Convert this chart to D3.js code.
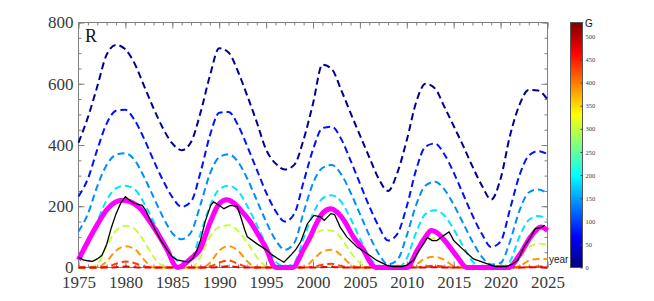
<!DOCTYPE html>
<html>
<head>
<meta charset="utf-8">
<script src="https://cdn.jsdelivr.net/npm/d3@7/dist/d3.min.js"></script>
<style>
    body { margin: 0; background: #fff; }
    svg { display: block; }
</style>
</head>
<body>
<div id="chart"></div>
<script>
//years of the dashed model curves
let years = [1975, 1976, 1977, 1978, 1979, 1980, 1981, 1982, 1983, 1984, 1985,
    1986, 1987, 1988, 1989, 1990, 1991, 1992, 1993, 1994, 1995, 1996,
    1997, 1998, 1999, 2000, 2001, 2002, 2003, 2004, 2005, 2006, 2007,
    2008, 2009, 2010, 2011, 2012, 2013, 2014, 2015, 2016, 2017, 2018,
    2019, 2020, 2021, 2022, 2023, 2024, 2025];

//G level of each dashed curve (its colour comes from the G bar)
let gLevels = [10, 75, 140, 185, 300, 385, 430, 475];

let rG10 = [408, 490, 591, 695, 727, 712, 665, 592, 520, 455, 405,
    383, 410, 505, 625, 716, 702, 640, 560, 475, 385, 340,
    320, 335, 418, 535, 662, 648, 580, 505, 432, 360, 290,
    250, 310, 416, 540, 600, 585, 525, 462, 398, 330, 268,
    222, 290, 430, 530, 580, 578, 548];
let rG75 = [232, 290, 385, 470, 512, 515, 480, 420, 350, 285, 230,
    198, 215, 310, 430, 505, 508, 465, 395, 320, 245, 185,
    150, 175, 280, 385, 455, 460, 420, 350, 275, 200, 135,
    88, 110, 200, 320, 395, 405, 370, 310, 240, 170, 110,
    67, 85, 190, 300, 365, 380, 370];
let rG140 = [118, 175, 265, 335, 368, 373, 350, 295, 230, 165, 112,
    92, 115, 205, 305, 360, 370, 345, 290, 220, 150, 90,
    58, 80, 180, 275, 325, 335, 305, 245, 175, 105, 45,
    10, 25, 105, 205, 268, 280, 255, 205, 145, 85, 35,
    10, 15, 85, 185, 245, 255, 242];
let rG185 = [36, 75, 150, 220, 258, 267, 255, 210, 150, 90, 40,
    15, 30, 110, 200, 255, 267, 250, 200, 140, 75, 20,
    3, 15, 95, 175, 225, 236, 215, 160, 95, 35, 5,
    0, 0, 30, 115, 175, 187, 170, 125, 70, 20, 2,
    0, 0, 20, 100, 155, 168, 157];
let rG300 = [0, 0, 10, 70, 120, 136, 125, 85, 35, 5, 0,
    0, 0, 35, 100, 132, 138, 120, 80, 35, 5, 0,
    0, 0, 45, 100, 122, 120, 95, 50, 15, 0, 0,
    0, 0, 0, 50, 88, 95, 85, 50, 15, 0, 0,
    0, 0, 0, 30, 65, 78, 74];
let rG385 = [0, 0, 0, 20, 55, 69, 60, 25, 0, 0, 0,
    0, 0, 0, 15, 55, 70, 55, 20, 0, 0, 0,
    0, 0, 0, 25, 52, 58, 40, 10, 0, 0, 0,
    0, 0, 0, 10, 30, 35, 25, 5, 0, 0, 0,
    0, 0, 0, 5, 22, 28, 27];
let rG430 = [0, 0, 0, 2, 12, 20, 14, 3, 0, 0, 0,
    0, 0, 0, 3, 16, 23, 12, 2, 0, 0, 0,
    0, 0, 0, 2, 9, 12, 5, 0, 0, 0, 0,
    0, 0, 0, 0, 4, 6, 3, 0, 0, 0, 0,
    0, 0, 0, 0, 2, 3, 3];
let rG475 = [0, 0, 0, 0, 1, 3, 1, 0, 0, 0, 0,
    0, 0, 0, 0, 2, 4, 1, 0, 0, 0, 0,
    0, 0, 0, 0, 1, 2, 0, 0, 0, 0, 0,
    0, 0, 0, 0, 0, 1, 0, 0, 0, 0, 0,
    0, 0, 0, 0, 0, 1, 0];

let dashedR = [rG10, rG75, rG140, rG185, rG300, rG385, rG430, rG475];

//model fit (thick magenta)
let fitYears = [1975, 1976, 1977, 1978, 1979, 1979.7, 1980.5, 1981.5, 1982.5, 1983.5, 1984.5, 1985.3, 1985.6, 1986,
    1987, 1988, 1989, 1990, 1990.8, 1991.5, 1992.5, 1993.3, 1994.2, 1995.1, 1995.7, 1996.1, 1997.8,
    1999, 1999.7, 2000.3, 2001.1, 2001.9, 2002.6, 2003.3, 2004.3, 2005.4, 2006.1, 2006.7, 2010,
    2011.1, 2012, 2012.6, 2013.3, 2014.3, 2015.4, 2016.4, 2020.8, 2022.1, 2023.2, 2024.3, 2025];
let fitR = [25, 85, 140, 188, 215, 220, 215, 195, 155, 108, 55, 5, 0, 5,
    30, 62, 145, 208, 221, 212, 180, 150, 105, 56, 10, 0, 0,
    60, 100, 140, 180, 192, 180, 154, 100, 56, 17, 0, 0,
    56, 100, 121, 112, 78, 34, 0, 0, 45, 100, 132, 121];

//observed sunspot number (thin black)
let obsYears = [1975, 1975.5, 1976, 1976.5, 1977, 1977.5, 1978, 1978.5, 1979, 1979.5, 1980, 1980.5,
    1981, 1981.5, 1981.8, 1982.2, 1982.5, 1983.2, 1983.8, 1984.4, 1985, 1985.5, 1986, 1986.7,
    1987.2, 1987.6, 1988, 1988.5, 1989.1, 1989.4, 1989.9, 1990.5, 1991.2, 1991.9, 1992.3, 1992.7,
    1993, 1994, 1995.1, 1995.6, 1996.2, 1996.9, 1997.6, 1998.2, 1998.7, 1999.4, 2000.1, 2000.8,
    2001.2, 2001.9, 2002.3, 2002.9, 2003.6, 2004.7, 2005.8, 2006.8, 2007.9, 2008.5, 2009.5, 2010,
    2010.7, 2011.3, 2011.8, 2012.2, 2012.7, 2013.2, 2013.5, 2013.95, 2014.5, 2014.8, 2015, 2016.1,
    2017.1, 2018.6, 2019.4, 2020.6, 2021.2, 2021.8, 2022.5, 2023.2, 2023.7, 2024.3, 2024.7];
let obsR = [34, 25, 22, 20, 28, 40, 75, 130, 175, 210, 231, 218,
    209, 205, 203, 185, 165, 121, 88, 60, 35, 25, 22, 18,
    30, 55, 88, 150, 203, 214, 205, 192, 203, 200, 165, 125,
    100, 78, 56, 42, 30, 17, 39, 60, 85, 143, 170, 165,
    154, 176, 173, 132, 100, 67, 45, 23, 7, 3, 3, 8,
    23, 55, 78, 98, 88, 88, 95, 105, 116, 100, 88, 56,
    28, 12, 3, 3, 10, 23, 67, 100, 127, 130, 138];

//tick labels
let xTicks = [1975, 1980, 1985, 1990, 1995, 2000, 2005, 2010, 2015, 2020, 2025];
let yTicks = [0, 200, 400, 600, 800];
let gTicks = [0, 50, 100, 150, 200, 250, 300, 350, 400, 450, 500];
let gMax = 530;

//layout
let width = 654;
let height = 301;
let plotLeft = 78.5;
let plotRight = 547.5;
let plotTop = 22.5;
let plotBottom = 267.5;
let barLeft = 570.5;
let barWidth = 12;

let serif = "'Liberation Serif', 'Times New Roman', serif";
let sans = "'Liberation Sans', Arial, sans-serif";
let frameColor = "#808080";
let labelColor = "#3a3a3a";

let svg = d3.select("#chart")
    .append("svg")
    .attr("width", width)
    .attr("height", height);

let x = d3.scaleLinear().domain([1975, 2025]).range([plotLeft, plotRight]);
let y = d3.scaleLinear().domain([0, 800]).range([plotBottom, plotTop]);

//jet colour map for G
let jetStops = [0, 0.125, 0.375, 0.625, 0.875, 1];
let jetColors = ["#000080", "#0000ff", "#00ffff", "#ffff00", "#ff0000", "#800000"];
let jet = d3.scaleLinear()
    .domain(jetStops.map(t => t * gMax))
    .range(jetColors);

drawAxes();
drawCurves();
drawColorbar();


function styleAxis(g, withLabels) {
    g.attr("font-family", null);
    g.select(".domain").remove();
    g.selectAll(".tick line").attr("stroke", frameColor);
    if (withLabels) {
        g.selectAll(".tick text")
            .attr("fill", labelColor)
            .attr("font-family", serif)
            .style("font-family", serif)
            .style("font-size", "17px");
    } else {
        g.selectAll(".tick text").remove();
    }
}

function drawAxes() {
    let minorYears = x.ticks(50);
    let minorR = d3.range(0, 801, 50);

    //minor ticks on all four sides
    svg.append("g").attr("transform", `translate(0,${plotBottom})`)
        .call(d3.axisBottom(x).tickValues(minorYears).tickSizeInner(-3).tickSizeOuter(0))
        .call(g => styleAxis(g, false));
    svg.append("g").attr("transform", `translate(0,${plotTop})`)
        .call(d3.axisTop(x).tickValues(minorYears).tickSizeInner(-3).tickSizeOuter(0))
        .call(g => styleAxis(g, false));
    svg.append("g").attr("transform", `translate(${plotLeft},0)`)
        .call(d3.axisLeft(y).tickValues(minorR).tickSizeInner(-3).tickSizeOuter(0))
        .call(g => styleAxis(g, false));
    svg.append("g").attr("transform", `translate(${plotRight},0)`)
        .call(d3.axisRight(y).tickValues(minorR).tickSizeInner(-3).tickSizeOuter(0))
        .call(g => styleAxis(g, false));

    //major ticks with labels
    svg.append("g").attr("transform", `translate(0,${plotBottom})`)
        .call(d3.axisBottom(x).tickValues(xTicks).tickSizeInner(-6).tickSizeOuter(0)
            .tickPadding(8).tickFormat(d3.format("d")))
        .call(g => styleAxis(g, true));
    svg.append("g").attr("transform", `translate(0,${plotTop})`)
        .call(d3.axisTop(x).tickValues(xTicks).tickSizeInner(-6).tickSizeOuter(0))
        .call(g => styleAxis(g, false));
    svg.append("g").attr("transform", `translate(${plotLeft},0)`)
        .call(d3.axisLeft(y).tickValues(yTicks).tickSizeInner(-6).tickSizeOuter(0).tickPadding(5))
        .call(g => styleAxis(g, true));
    svg.append("g").attr("transform", `translate(${plotRight},0)`)
        .call(d3.axisRight(y).tickValues(yTicks).tickSizeInner(-6).tickSizeOuter(0))
        .call(g => styleAxis(g, false));

    //frame
    svg.append("rect")
        .attr("x", plotLeft)
        .attr("y", plotTop)
        .attr("width", plotRight - plotLeft)
        .attr("height", plotBottom - plotTop)
        .attr("fill", "none")
        .attr("stroke", frameColor);

    svg.append("text")
        .attr("x", 85)
        .attr("y", 42)
        .style("font-family", serif)
        .style("font-size", "18px")
        .attr("fill", "#111")
        .text("R");

    svg.append("text")
        .attr("x", 549)
        .attr("y", 263)
        .style("font-family", sans)
        .style("font-size", "10px")
        .attr("fill", "#222")
        .text("year");
}

function drawCurves() {
    let line = d3.line()
        .x(d => x(d[0]))
        .y(d => y(d[1]))
        .curve(d3.curveMonotoneX);

    //dashed family, one per G level
    svg.append("g")
        .selectAll("path")
        .data(dashedR)
        .enter()
        .append("path")
        .attr("d", r => line(years.map((yr, i) => [yr, r[i]])))
        .attr("fill", "none")
        .attr("stroke", (r, i) => jet(gLevels[i]))
        .attr("stroke-width", 2)
        .attr("stroke-dasharray", "7,4");

    //fit
    svg.append("path")
        .attr("d", line(fitYears.map((yr, i) => [yr, fitR[i]])))
        .attr("fill", "none")
        .attr("stroke", "#ff00ff")
        .attr("stroke-width", 5)
        .attr("stroke-linejoin", "round");

    //observed
    let obsLine = d3.line()
        .x(d => x(d[0]))
        .y(d => y(d[1]));

    svg.append("path")
        .attr("d", obsLine(obsYears.map((yr, i) => [yr, obsR[i]])))
        .attr("fill", "none")
        .attr("stroke", "#000")
        .attr("stroke-width", 1.3);
}

function drawColorbar() {
    let g = d3.scaleLinear().domain([0, gMax]).range([plotBottom, plotTop]);

    let grad = svg.append("defs")
        .append("linearGradient")
        .attr("id", "jet")
        .attr("x1", 0).attr("y1", 1)
        .attr("x2", 0).attr("y2", 0);

    grad.selectAll("stop")
        .data(jetStops)
        .enter()
        .append("stop")
        .attr("offset", d => d)
        .attr("stop-color", (d, i) => jetColors[i]);

    svg.append("rect")
        .attr("x", barLeft)
        .attr("y", plotTop)
        .attr("width", barWidth)
        .attr("height", plotBottom - plotTop)
        .attr("fill", "url(#jet)")
        .attr("stroke", "#555");

    let axis = svg.append("g")
        .attr("transform", `translate(${barLeft + barWidth},0)`)
        .call(d3.axisRight(g).tickValues(gTicks).tickSizeInner(-2).tickSizeOuter(0).tickPadding(3));

    axis.select(".domain").remove();
    axis.selectAll(".tick line").attr("stroke", "#444");
    axis.selectAll(".tick text")
        .attr("fill", labelColor)
        .attr("font-family", serif)
        .style("font-size", "6.5px");

    svg.append("text")
        .attr("x", 585)
        .attr("y", 27)
        .style("font-family", sans)
        .style("font-size", "10px")
        .attr("fill", "#111")
        .text("G");
}
</script>
</body>
</html>
